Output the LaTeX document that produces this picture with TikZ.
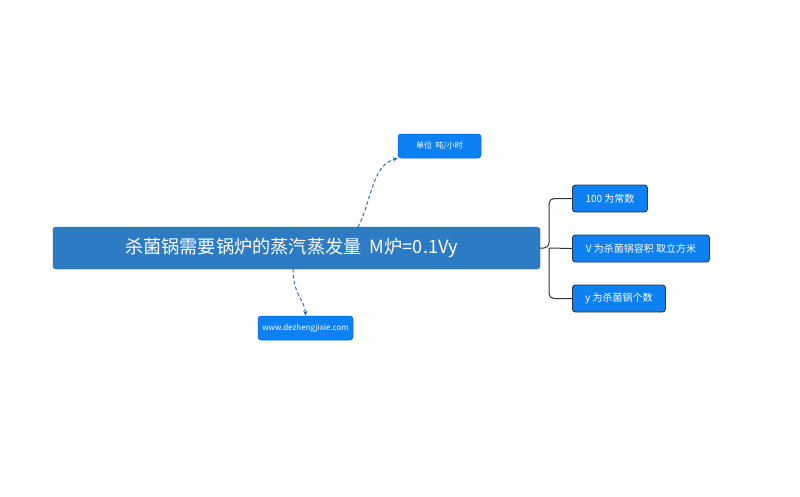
\documentclass[tikz,border=0pt]{standalone}
\usepackage{fontspec}
\setmainfont{Noto Sans CJK SC}
\usetikzlibrary{arrows.meta}
\definecolor{mainblue}{HTML}{2D7BC3}
\definecolor{subblue}{HTML}{0D80F2}
\definecolor{edgeblue}{HTML}{2F6EB0}
\definecolor{darkedge}{HTML}{2B3445}
\tikzset{
  mainbox/.style={fill=mainblue, draw=mainblue!80!black, line width=0.4pt, rounded corners=3pt, minimum width=487pt, minimum height=42pt, inner sep=0pt},
  maintxt/.style={text=white, font=\fontsize{18.2}{21}\selectfont, inner sep=0pt},
  subbox/.style={fill=subblue, draw=subblue!80!black, line width=0.5pt, rounded corners=3pt, text=white, font=\fontsize{8}{10}\selectfont, minimum height=24pt, inner sep=0pt},
  rightbox/.style={fill=subblue, draw=darkedge, line width=0.9pt, rounded corners=3pt, text=white, font=\fontsize{10}{12}\selectfont, minimum height=27pt, inner sep=0pt, anchor=west},
  dashlink/.style={edgeblue, line width=1pt, dash pattern=on 3.5pt off 2.5pt, -{Stealth[length=5pt,width=4.5pt]}},
  branch/.style={darkedge, line width=1pt, rounded corners=5pt}
}
\begin{document}
\begin{tikzpicture}[x=1pt,y=-1pt]
\useasboundingbox (0,0) rectangle (800,496);
\node[mainbox] (main) at (296.5,248) {};
\node[maintxt] (maintext) at (291.5,248) {杀菌锅需要锅炉的蒸汽蒸发量\ \ M炉=0.1Vy};
\node[subbox, minimum width=83pt] (unit) at (439.5,146) {单位\ \ 吨/小时};
\node[subbox, minimum width=95pt] (web) at (305.5,328) {www.dezhengjixie.com};
\node[rightbox, minimum width=75pt] (r1) at (572,198.5) {100 为常数};
\node[rightbox, minimum width=137pt] (r2) at (572,248.5) {V 为杀菌锅容积 取立方米};
\node[rightbox, minimum width=93pt] (r3) at (572,298.5) {y 为杀菌锅个数};
\coordinate (a1) at (358,227);
\coordinate (a2) at (293,269);
\draw[dashlink] (a1) .. controls (372,200) and (372,165) .. (unit.south west);
\draw[dashlink] (a2) .. controls (293,295) and (305,300) .. (web.north);
\draw[branch] (main.east) -- (549,248) |- (r1.west);
\draw[branch] (549,248) |- (r3.west);
\draw[branch] (549,248) -- (r2.west);
\end{tikzpicture}
\end{document}
